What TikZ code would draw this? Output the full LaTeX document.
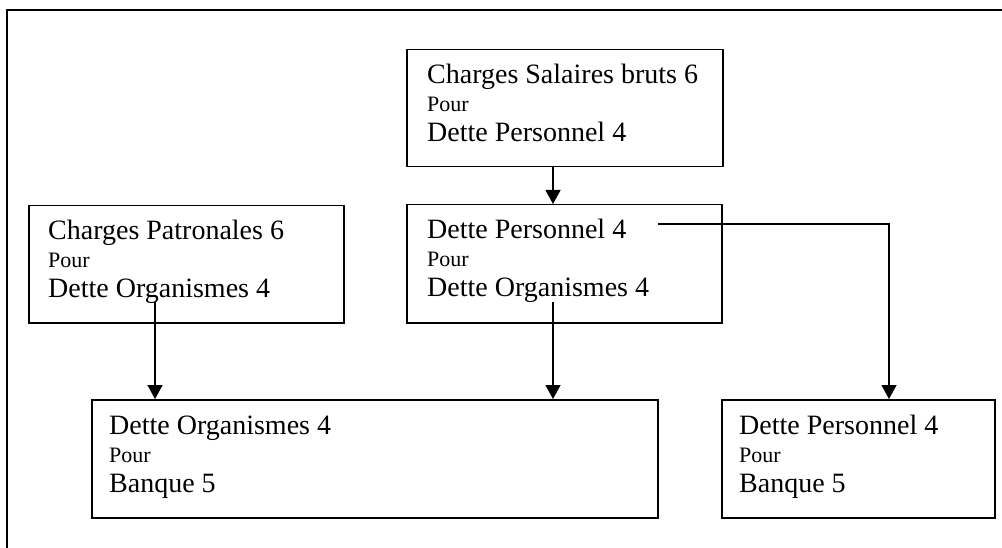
\documentclass[tikz,border=0pt]{standalone}
\usepackage{fontspec}
\setmainfont{Liberation Serif}
\usetikzlibrary{arrows.meta,calc}
\tikzset{
  box/.style={draw, line width=1.5pt, rectangle, inner sep=0pt, anchor=north west},
  big/.style={anchor=base west, inner sep=0pt, font=\fontsize{28}{30}\selectfont},
  small/.style={anchor=base west, inner sep=0pt, font=\fontsize{22}{24}\selectfont},
  arr/.style={line width=1.3pt, -{Triangle[width=15pt,length=14pt]}},
  frameline/.style={line width=2pt}
}
\begin{document}
\begin{tikzpicture}[x=1pt,y=-1pt]
\useasboundingbox (0,0) rectangle (1002,548);
% outer frame (open at right and bottom)
\coordinate (f1) at (1002,10);
\coordinate (f2) at (7,10);
\coordinate (f3) at (7,548);
\draw[frameline] (f1) -- (f2) -- (f3);

% boxes
\node[box, minimum width=316pt, minimum height=117pt] (A) at (406,49) {};
\node[box, minimum width=315pt, minimum height=118pt] (B) at (406,204) {};
\node[box, minimum width=315pt, minimum height=117pt] (C) at (28,205) {};
\node[box, minimum width=566pt, minimum height=118pt] (D) at (91,399) {};
\node[box, minimum width=273pt, minimum height=118pt] (E) at (721,399) {};

% texts
\node[big]   (a1) at ($(A.north west)+(21,35)$) {Charges Salaires bruts 6};
\node[small] (a2) at ($(A.north west)+(21,63)$) {Pour};
\node[big]   (a3) at ($(A.north west)+(21,93)$) {Dette Personnel 4};

\node[big]   (b1) at ($(B.north west)+(21,35)$) {Dette Personnel 4};
\node[small] (b2) at ($(B.north west)+(21,63)$) {Pour};
\node[big]   (b3) at ($(B.north west)+(21,93)$) {Dette Organismes 4};

\node[big]   (c1) at ($(C.north west)+(20,35)$) {Charges Patronales 6};
\node[small] (c2) at ($(C.north west)+(20,63)$) {Pour};
\node[big]   (c3) at ($(C.north west)+(20,93)$) {Dette Organismes 4};

\node[big]   (d1) at ($(D.north west)+(18,35)$) {Dette Organismes 4};
\node[small] (d2) at ($(D.north west)+(18,63)$) {Pour};
\node[big]   (d3) at ($(D.north west)+(18,93)$) {Banque 5};

\node[big]   (e1) at ($(E.north west)+(18,35)$) {Dette Personnel 4};
\node[small] (e2) at ($(E.north west)+(18,63)$) {Pour};
\node[big]   (e3) at ($(E.north west)+(18,93)$) {Banque 5};

% connectors
\coordinate (colB) at (553,0);
\coordinate (colC) at (155,0);
\coordinate (colE) at (889,0);
\coordinate (sB) at (553,302);
\coordinate (sC) at (155,302);
\coordinate (sE) at (658,224);

\draw[arr] (A.south -| colB) -- (B.north -| colB);
\draw[arr] (sC) -- (D.north -| colC);
\draw[arr] (sB) -- (D.north -| colB);
\draw[arr] (sE) -- (sE -| colE) -- (E.north -| colE);
\end{tikzpicture}
\end{document}
